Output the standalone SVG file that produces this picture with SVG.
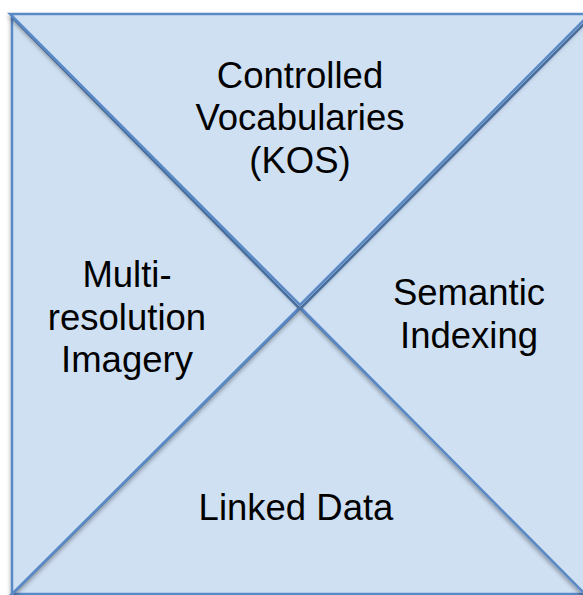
<svg xmlns="http://www.w3.org/2000/svg" width="583" height="595" viewBox="0 0 583 595">
<defs>
<filter id="sh" x="-10%" y="-10%" width="120%" height="120%">
<feDropShadow dx="0" dy="3" stdDeviation="2" flood-color="#000" flood-opacity="0.35"/>
</filter>
<style>
.tri{fill:#cfe0f3;stroke:#5a8ac6;stroke-width:2.5;stroke-linejoin:miter;filter:url(#sh)}
.lbl{font-family:"Liberation Sans",Arial,sans-serif;font-size:36.5px;fill:#000;text-anchor:middle}
</style>
</defs>
<rect width="583" height="595" fill="#fff"/>
<g id="bottom">
<polygon class="tri" points="12,594 588,594 300,308"/>
<text class="lbl" x="296" y="520">Linked Data</text>
</g>
<g id="left">
<polygon class="tri" points="12,17 12,594 299,308"/>
<text class="lbl" x="127" y="287">Multi-</text>
<text class="lbl" x="127" y="330">resolution</text>
<text class="lbl" x="127" y="372">Imagery</text>
</g>
<g id="right">
<polygon class="tri" points="301,308 591,17 591,600"/>
<text class="lbl" x="469" y="305">Semantic</text>
<text class="lbl" x="469" y="348">Indexing</text>
</g>
<g id="top">
<polygon class="tri" points="10,14 590,14 300,305"/>
<text class="lbl" x="300" y="88">Controlled</text>
<text class="lbl" x="300" y="130">Vocabularies</text>
<text class="lbl" x="300" y="173">(KOS)</text>
</g>
<g id="connectors"/>
</svg>
